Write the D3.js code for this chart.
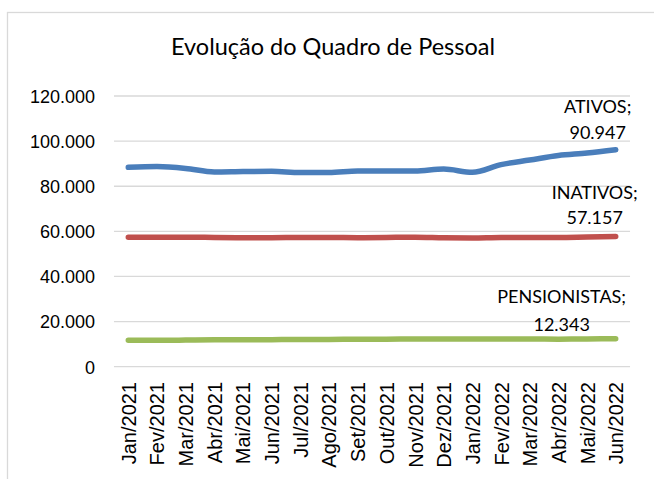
<!DOCTYPE html>
<html>
<head>
  <meta charset="utf-8">
  <script src="https://d3js.org/d3.v7.min.js"></script>
  <style>
    body { margin: 0; background: #fff; }
    svg { font-family: Lato, "Open Sans", sans-serif; fill: #000; }
    .grid line { stroke: #d9d9d9; stroke-width: 1.3; }
    .axis text { font-size: 18px; fill: #000; }
    .xaxis text { font-size: 20px; }
    .title { font-size: 23.5px; }
    .lbl { font-size: 18px; }
  </style>
</head>
<body>
  <div id="chart"></div>
  <script>
    // data
    const months = ["Jan/2021", "Fev/2021", "Mar/2021", "Abr/2021", "Mai/2021", "Jun/2021",
      "Jul/2021", "Ago/2021", "Set/2021", "Out/2021", "Nov/2021", "Dez/2021",
      "Jan/2022", "Fev/2022", "Mar/2022", "Abr/2022", "Mai/2022", "Jun/2022"];
    const ativos = [88400, 88700, 87900, 86300, 86500, 86600, 86100, 86100, 86800,
      86700, 86700, 87600, 86200, 89600, 91600, 93600, 94700, 96200];
    const inativos = [57400, 57400, 57400, 57300, 57200, 57200, 57300, 57300, 57200,
      57300, 57400, 57200, 57100, 57300, 57300, 57300, 57500, 57700];
    const pensionistas = [11700, 11700, 11800, 11900, 11900, 12000, 12100, 12100, 12200,
      12200, 12300, 12300, 12300, 12300, 12300, 12200, 12300, 12400];
    const seriesNames = ["ATIVOS", "INATIVOS", "PENSIONISTAS"];
    const labelValues = ["90.947", "57.157", "12.343"];
    const yTicks = [0, 20000, 40000, 60000, 80000, 100000, 120000];

    const W = 654, H = 479;
    const colors = ["#4a7ebb", "#c0504d", "#9bbb59"];
    const series = [ativos, inativos, pensionistas];

    const svg = d3.select("#chart").append("svg")
      .attr("width", W).attr("height", H);

    // frame (right and bottom edges fall outside the picture)
    svg.append("rect")
      .attr("x", 7.5).attr("y", 12.5)
      .attr("width", 700).attr("height", 500)
      .attr("fill", "none").attr("stroke", "#d9d9d9").attr("stroke-width", 1.3);

    const x = d3.scalePoint().domain(months).range([128.3, 615.7]);
    const y = d3.scaleLinear().domain([0, 120000]).range([366.7, 96]);
    const step = x.step();

    svg.append("text")
      .attr("class", "title")
      .attr("x", 333).attr("y", 55)
      .attr("text-anchor", "middle")
      .text("Evolução do Quadro de Pessoal");

    // gridlines
    svg.append("g").attr("class", "grid")
      .selectAll("line").data(yTicks).join("line")
      .attr("x1", x(months[0]) - step / 2)
      .attr("x2", x(months[months.length - 1]) + step / 2)
      .attr("y1", d => y(d)).attr("y2", d => y(d));

    // y axis labels
    const fmt = d => d3.format(",")(d).replace(/,/g, ".");
    svg.append("g").attr("class", "axis")
      .attr("transform", "translate(95,0)")
      .call(d3.axisLeft(y).tickValues(yTicks).tickFormat(fmt).tickSize(0).tickPadding(0))
      .call(g => g.select(".domain").remove())
      .selectAll("text").attr("dy", "0.35em");

    // x axis labels
    svg.append("g").attr("class", "axis xaxis")
      .attr("transform", "translate(0,382)")
      .call(d3.axisBottom(x).tickSize(0).tickPadding(0))
      .call(g => g.select(".domain").remove())
      .selectAll("text")
        .attr("transform", "rotate(-90)")
        .attr("text-anchor", "end")
        .attr("x", 0).attr("y", 0)
        .attr("dy", "0.35em");

    // lines
    const line = d3.line()
      .x((d, i) => x(months[i]))
      .y(d => y(d))
      .curve(d3.curveMonotoneX);

    svg.append("g").selectAll("path").data(series).join("path")
      .attr("d", line)
      .attr("fill", "none")
      .attr("stroke", (d, i) => colors[i])
      .attr("stroke-width", 5.5)
      .attr("stroke-linecap", "round")
      .attr("stroke-linejoin", "round");

    // data labels on the last point
    const labelDx = [-18, -21, -54];
    const labelDy = [[-37, -11], [-38, -12.5], [-36, -7.5]];
    series.forEach((s, i) => {
      const lx = x(months[months.length - 1]) + labelDx[i];
      const ly = y(s[s.length - 1]);
      const t = svg.append("text").attr("class", "lbl").attr("text-anchor", "middle");
      t.append("tspan").attr("x", lx).attr("y", ly + labelDy[i][0]).text(seriesNames[i] + ";");
      t.append("tspan").attr("x", lx).attr("y", ly + labelDy[i][1]).text(labelValues[i]);
    });
  </script>
</body>
</html>
